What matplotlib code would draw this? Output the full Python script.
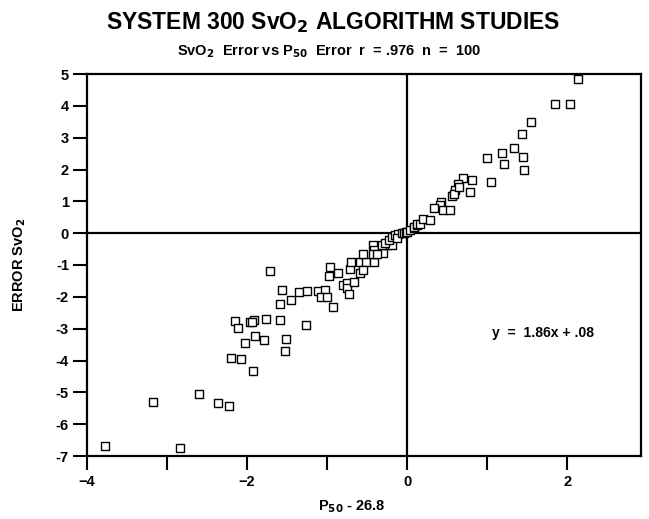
import matplotlib
matplotlib.use("Agg")
import matplotlib.pyplot as plt

plt.rcParams['font.family'] = ['Liberation Sans', 'DejaVu Sans']
plt.rcParams['font.weight'] = 'bold'
plt.rcParams['mathtext.default'] = 'bf'

p50_error = [
    -3.77, -2.84, -3.17, -2.60, -2.36, -2.23, -1.93, -2.20, -2.08, -2.03,
    -1.90, -1.79, -2.15, -2.11, -1.96, -1.92, -1.94, -1.76, -1.59, -1.51,
    -1.53, -1.59, -1.56, -1.71, -1.26,
    -1.45, -1.35, -1.25, -1.11, -1.03, -1.08, -1.00, -0.93, -0.97, -0.98,
    -0.86, -0.80, -0.75, -0.75, -0.73, -0.67, -0.72, -0.70, -0.59, -0.59,
    -0.52, -0.41, -0.55, -0.43, -0.42, -0.43, -0.30, -0.38, -0.25, -0.19,
    -0.32, -0.275, -0.23, -0.19, -0.15, -0.11, -0.13, -0.07, -0.04, -0.02,
    0.00, 0.04, 0.08, 0.08, 0.12, 0.12, 0.16, -0.55,
    2.13, 1.84, 2.03, 1.55, 1.43, 1.33, 1.18, 1.00, 1.44, 1.21,
    1.46, 1.05, 0.70, 0.81, 0.63, 0.60, 0.56, 0.58, 0.65, 0.78,
    0.425, 0.41, 0.33, 0.45, 0.53, 0.20, 0.29,
]
svo2_error = [
    -6.70, -6.74, -5.30, -5.04, -5.32, -5.43, -4.33, -3.92, -3.95, -3.45,
    -3.24, -3.36, -2.77, -2.97, -2.79, -2.72, -2.80, -2.70, -2.74, -3.31,
    -3.70, -2.23, -1.79, -1.18, -2.90,
    -2.11, -1.85, -1.82, -1.83, -1.78, -2.01, -2.00, -2.32, -1.06, -1.33,
    -1.26, -1.64, -1.58, -1.71, -1.90, -1.53, -1.14, -0.92, -1.25, -0.91,
    -0.92, -0.92, -0.67, -0.36, -0.52, -0.65, -0.62, -0.64, -0.38, -0.38,
    -0.38, -0.32, -0.22, -0.12, -0.06, -0.04, -0.14, 0.00, -0.01, 0.04,
    0.04, 0.09, 0.15, 0.20, 0.25, 0.30, 0.30, -1.16,
    4.83, 4.05, 4.05, 3.50, 3.13, 2.66, 2.51, 2.37, 2.40, 2.16,
    2.00, 1.61, 1.74, 1.67, 1.56, 1.35, 1.17, 1.24, 1.45, 1.28,
    0.97, 0.88, 0.78, 0.72, 0.72, 0.46, 0.41,
]

x_ticks = [-4, -3, -2, -1, 0, 1, 2]
x_ticklabels = ['\u22124', '', '\u22122', '', '0', '', '2']
y_ticks = [-7, -6, -5, -4, -3, -2, -1, 0, 1, 2, 3, 4, 5]

fig = plt.figure(figsize=(6.49, 5.19), dpi=100)
ax = fig.add_axes([87/649, 1 - 456/519, (641 - 87)/649, (456 - 74)/519])

ax.scatter(p50_error, svo2_error, marker='s', s=30, facecolors='white',
           edgecolors='black', linewidths=1.0, zorder=3)
ax.axhline(0, color='black', lw=1.6, zorder=2)
ax.axvline(0, color='black', lw=1.6, zorder=2)

ax.set_xlim(-4, 2.92)
ax.set_ylim(-7, 5)
ax.set_xticks(x_ticks)
ax.set_xticklabels(x_ticklabels)
ax.set_yticks(y_ticks)
ax.set_yticklabels([str(v) for v in y_ticks])
ax.tick_params(direction='out', length=10, width=1.5, labelsize=10.5, pad=3)
ax.tick_params(axis='x', pad=4)
for lab in ax.get_xticklabels() + ax.get_yticklabels():
    lab.set_fontweight('bold')
for sp in ax.spines.values():
    sp.set_linewidth(1.6)

ax.text(1.7, -3.15, 'y  =  1.86x + .08', fontsize=10, fontweight='bold',
        ha='center', va='center')

fig.text(0.513, 0.956, 'SYSTEM 300 SvO$_2$ ALGORITHM STUDIES', fontsize=16.5,
         fontweight='bold', ha='center', va='center')
fig.text(0.507, 0.900, 'SvO$_2$  Error vs P$_{50}$  Error  r  = .976  n  =  100',
         fontsize=10.5, fontweight='bold', ha='center', va='center')
fig.text(0.542, 0.024, 'P$_{50}$ - 26.8', fontsize=10.5, fontweight='bold',
         ha='center', va='center')
fig.text(0.03, 0.49, 'ERROR SvO$_2$', fontsize=10.5, fontweight='bold',
         ha='center', va='center', rotation=90)

fig.savefig('out.png', dpi=100)
